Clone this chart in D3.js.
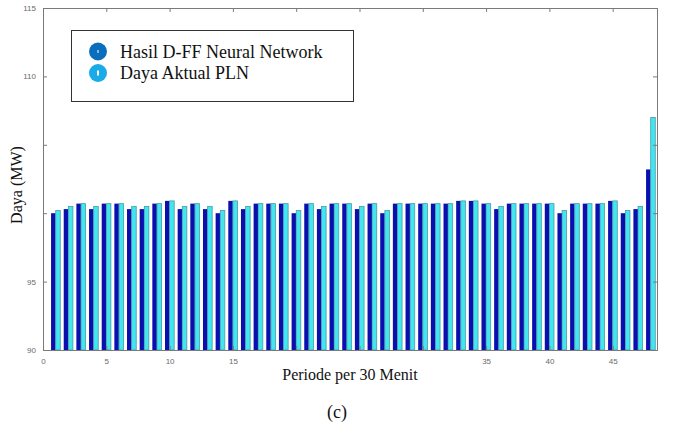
<!DOCTYPE html>
<html>
<head>
<meta charset="utf-8">
<script src="https://cdn.jsdelivr.net/npm/d3@7/dist/d3.min.js"></script>
<style>
  html, body { margin: 0; padding: 0; background: #fff; }
  svg { display: block; }
</style>
</head>
<body>
<svg id="chart" width="675" height="436"></svg>
<script>
// Half-hour periods 1..48
const periode = d3.range(1, 49);

// Forecast from the D-FF neural network (MW)
const hasilDFF = [
  100.0, 100.3, 100.7, 100.3, 100.7, 100.7, 100.3, 100.3, 100.7, 100.9,
  100.3, 100.7, 100.3, 100.0, 100.9, 100.3, 100.7, 100.7, 100.7, 100.0,
  100.7, 100.3, 100.7, 100.7, 100.3, 100.7, 100.0, 100.7, 100.7, 100.7,
  100.7, 100.7, 100.9, 100.9, 100.7, 100.3, 100.7, 100.7, 100.7, 100.7,
  100.0, 100.7, 100.7, 100.7, 100.9, 100.0, 100.3, 103.2
];

// Measured PLN load (MW)
const dayaAktual = [
  100.2, 100.5, 100.7, 100.5, 100.7, 100.7, 100.5, 100.5, 100.7, 100.9,
  100.5, 100.7, 100.5, 100.2, 100.9, 100.5, 100.7, 100.7, 100.7, 100.2,
  100.7, 100.5, 100.7, 100.7, 100.5, 100.7, 100.2, 100.7, 100.7, 100.7,
  100.7, 100.7, 100.9, 100.9, 100.7, 100.5, 100.7, 100.7, 100.7, 100.7,
  100.2, 100.7, 100.7, 100.7, 100.9, 100.2, 100.5, 107.0
];

// Tick positions and the labels printed on them
const xTicks = [0, 5, 10, 15, 20, 25, 30, 35, 40, 45];
const xTickLabels = ["0", "5", "10", "15", "", "", "", "35", "40", "45"];
const yTicks = [90, 95, 100, 105, 110, 115];
const yTickLabels = ["90", "95", "", "", "110", "115"];

const legendLabels = ["Hasil D-FF Neural Network", "Daya Aktual PLN"];

const svg = d3.select("#chart");
const m = { left: 43, top: 8, right: 657, bottom: 350 };

const x = d3.scaleLinear().domain([0, 48.5]).range([m.left, m.right]);
const y = d3.scaleLinear().domain([90, 115]).range([m.bottom, m.top]);
const sub = d3.scaleBand().domain([0, 1]).range([-4.6, 4.6]).paddingInner(0.02);

const series = [
  { values: hasilDFF, fill: "#0a0fae", stroke: "#0a0fae" },
  { values: dayaAktual, fill: "#41e6f0", stroke: "#4d9aa6" }
];

// Bars
series.forEach((s, si) => {
  svg.append("g")
    .selectAll("rect")
    .data(periode)
    .join("rect")
    .attr("x", (p) => x(p) + sub(si))
    .attr("width", sub.bandwidth())
    .attr("y", (p, i) => y(s.values[i]))
    .attr("height", (p, i) => y(90) - y(s.values[i]))
    .attr("fill", s.fill)
    .attr("stroke", s.stroke)
    .attr("stroke-width", si === 1 ? 0.8 : 0);
});

// Axis box with inward ticks on all four sides
const axisColor = "#7a7a7a";
const tickFont = "Liberation Sans, Arial, sans-serif";

const bottomAxis = d3.axisBottom(x).tickValues(xTicks)
  .tickSize(-4).tickPadding(8)
  .tickFormat((d, i) => xTickLabels[i]);
const topAxis = d3.axisTop(x).tickValues(xTicks).tickSize(-4).tickFormat("");
const leftAxis = d3.axisLeft(y).tickValues(yTicks)
  .tickSize(-4).tickPadding(7)
  .tickFormat((d, i) => yTickLabels[i]);
const rightAxis = d3.axisRight(y).tickValues(yTicks).tickSize(-4).tickFormat("");

function styleAxis(g) {
  g.select(".domain").attr("stroke", axisColor).attr("stroke-width", 1);
  g.selectAll(".tick line").attr("stroke", axisColor);
  g.selectAll(".tick text")
    .attr("fill", "#6a6a6a")
    .style("font-family", tickFont)
    .style("font-size", "8px");
}

svg.append("g").attr("transform", `translate(0,${m.bottom})`).call(bottomAxis).call(styleAxis);
svg.append("g").attr("transform", `translate(0,${m.top})`).call(topAxis).call(styleAxis);
svg.append("g").attr("transform", `translate(${m.left},0)`).call(leftAxis).call(styleAxis);
svg.append("g").attr("transform", `translate(${m.right},0)`).call(rightAxis).call(styleAxis);

// Axis titles
const serif = "Liberation Serif, Times New Roman, serif";
svg.append("text")
  .attr("transform", `translate(22,${(m.top + m.bottom) / 2 + 6}) rotate(-90)`)
  .attr("text-anchor", "middle")
  .style("font-family", serif).style("font-size", "16px")
  .attr("fill", "#111")
  .text("Daya (MW)");

svg.append("text")
  .attr("x", 350).attr("y", 380)
  .attr("text-anchor", "middle")
  .style("font-family", serif).style("font-size", "16px")
  .attr("fill", "#111")
  .text("Periode per 30 Menit");

svg.append("text")
  .attr("x", 337).attr("y", 418)
  .attr("text-anchor", "middle")
  .style("font-family", serif).style("font-size", "18px")
  .attr("fill", "#111")
  .text("(c)");

// Legend
const legend = svg.append("g");
legend.append("rect")
  .attr("x", 71.5).attr("y", 30.5).attr("width", 282).attr("height", 71)
  .attr("fill", "#fff").attr("stroke", "#333").attr("stroke-width", 1);

const legendColors = ["#0a6ebd", "#19aaea"];
legendLabels.forEach((label, i) => {
  const cy = 51.5 + i * 21.5;
  legend.append("circle").attr("cx", 98).attr("cy", cy).attr("r", 9).attr("fill", legendColors[i]);
  legend.append("line")
    .attr("x1", 98).attr("x2", 98).attr("y1", cy - (i ? 2.5 : 1.5)).attr("y2", cy + (i ? 2.5 : 1.5))
    .attr("stroke", "#fff").attr("stroke-width", i ? 2 : 1);
  legend.append("text")
    .attr("x", 120).attr("y", cy + 6)
    .style("font-family", serif).style("font-size", "18px")
    .attr("fill", "#111")
    .text(label);
});
</script>
</body>
</html>
